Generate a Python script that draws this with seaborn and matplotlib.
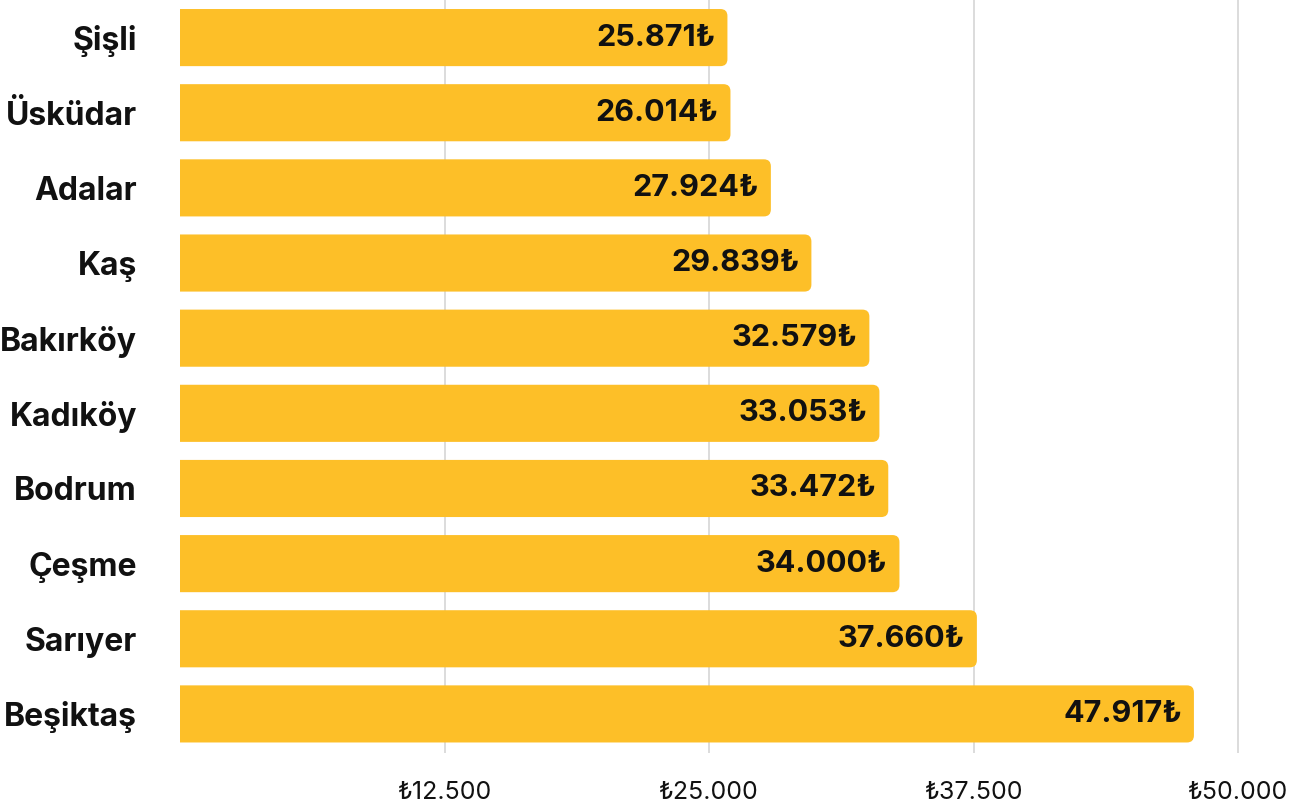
import matplotlib
matplotlib.use("Agg")
import matplotlib.pyplot as plt
from matplotlib.patches import FancyBboxPatch
from matplotlib.ticker import FuncFormatter
import seaborn as sns
import pandas as pd

# Average monthly rent by district (TL)
districts = ["Şişli", "Üsküdar", "Adalar", "Kaş", "Bakırköy",
             "Kadıköy", "Bodrum", "Çeşme", "Sarıyer", "Beşiktaş"]
rents = [25871, 26014, 27924, 29839, 32579, 33053, 33472, 34000, 37660, 47917]
x_ticks = [12500, 25000, 37500, 50000]

BAR_COLOR = "#FDBF28"
GRID_COLOR = "#D9D9D9"

sns.set_theme(style="white")
plt.rcParams["font.family"] = ["Inter", "DejaVu Sans"]

df = pd.DataFrame({"district": districts, "rent": rents})

W, H = 1307, 807
fig = plt.figure(figsize=(W / 100, H / 100), dpi=100)
ax_left, ax_right, ax_top, ax_bottom = 180, 1300, 0, 753
ax = fig.add_axes([ax_left / W, 1 - ax_bottom / H,
                   (ax_right - ax_left) / W, (ax_bottom - ax_top) / H])

sns.barplot(data=df, y="district", x="rent", orient="h", color=BAR_COLOR,
            width=0.76, saturation=1, ax=ax, zorder=2)

x_max = 50000 * (ax_right - ax_left) / (1238 - ax_left)
ax.set_xlim(0, x_max)
ax.set_ylim(len(districts) - 0.48, -0.5)

# Replace each bar with one whose right-hand corners are rounded; the
# left end is pushed past x=0 so its rounding is clipped away by the axes.
px_x = x_max / (ax_right - ax_left)                     # data units per pixel (x)
px_y = (len(districts) + 0.02) / (ax_bottom - ax_top)   # data units per pixel (y)
radius_px = 7
for patch in list(ax.patches):
    x0, y0 = patch.get_x(), patch.get_y()
    w, h = patch.get_width(), patch.get_height()
    shift = 3 * radius_px * px_x
    rounded = FancyBboxPatch((x0 - shift, y0), w + shift, h,
                             boxstyle=f"round,pad=0,rounding_size={radius_px * px_x}",
                             mutation_aspect=px_y / px_x,
                             facecolor=BAR_COLOR, edgecolor="none", zorder=2)
    ax.add_patch(rounded)
    patch.remove()

# Value labels inside the bar ends
for i, v in enumerate(rents):
    label = f"{v:,}".replace(",", ".") + "₺"
    ax.text(v - 12 * px_x, i, label, ha="right", va="center",
            fontsize=22, fontweight="bold", color="#111111", zorder=3)

ax.set_xticks(x_ticks)
ax.xaxis.set_major_formatter(FuncFormatter(lambda v, _: "₺" + f"{int(v):,}".replace(",", ".")))
ax.grid(axis="x", color=GRID_COLOR, linewidth=1.3, zorder=0)
ax.set_axisbelow(True)
for s in ax.spines.values():
    s.set_visible(False)

ax.tick_params(axis="x", length=0, pad=20, labelsize=18, labelcolor="#111111")
ax.tick_params(axis="y", length=0, pad=31, labelsize=23, labelcolor="#111111")
for t in ax.get_yticklabels():
    t.set_fontweight("bold")
ax.set_xlabel("")
ax.set_ylabel("")

fig.savefig("out.png", dpi=100)
